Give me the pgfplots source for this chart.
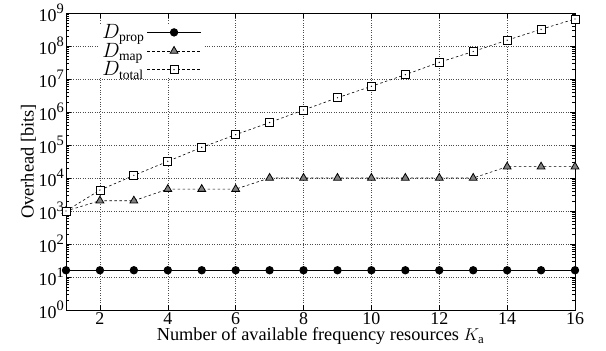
\documentclass[border=0pt]{standalone}
\usepackage{fontspec}
\setmainfont{Liberation Serif}
\usepackage{pgfplots}
\pgfplotsset{compat=1.18}
\pgfdeclareplotmark{sqdot}{%
  \pgfpathrectangle{\pgfpoint{-\pgfplotmarksize}{-\pgfplotmarksize}}{\pgfpoint{2\pgfplotmarksize}{2\pgfplotmarksize}}%
  \pgfusepathqfillstroke
  \begin{pgfscope}%
  \pgfsetfillcolor{black}%
  \pgfpathcircle{\pgfpointorigin}{0.7pt}%
  \pgfusepathqfill
  \end{pgfscope}}
\newcommand{\tp}[1]{10\raisebox{0.42em}{\fontsize{14.5}{15}\selectfont #1}}
\begin{document}
\begin{tikzpicture}[x=1bp,y=1bp]
\begin{axis}[
  scale only axis,
  width=509bp, height=297bp,
  at={(0,0)}, anchor=south west,
  ymode=log,
  xmin=1, xmax=16, ymin=1, ymax=1e9,
  xtick={2,4,6,8,10,12,14,16},
  ytick={1,1e1,1e2,1e3,1e4,1e5,1e6,1e7,1e8,1e9},
  yticklabels={\tp{0},\tp{1},\tp{2},\tp{3},\tp{4},\tp{5},\tp{6},\tp{7},\tp{8},\tp{9}},
  /pgf/number format/assume math mode=true,
  tick align=inside,
  tick pos=both,
  minor x tick num=0,
  major tick length=5bp, minor tick length=3bp,
  grid=major,
  major grid style={black!70, dotted, line width=0.5pt},
  axis line style={line width=0.9pt},
  tick style={black, line width=0.5pt},
  every tick label/.append style={font=\fontsize{18}{20}\selectfont},
  yticklabel style={inner xsep=2bp},
  xticklabel style={inner ysep=2bp},
  label style={font=\fontsize{18.4}{20}\selectfont},
  xlabel={Number of available frequency resources $K_{\mathrm{a}}$},
  ylabel={Overhead [bits]},
  xlabel style={yshift=2bp},
  ylabel style={yshift=-3bp},
  legend plot pos=right,
  legend cell align=left,
  legend style={at={(0.065,0.965)}, anchor=north west, draw=none, fill=white,
    font=\fontsize{19.5}{20}\selectfont, row sep=3bp, inner sep=1bp,
    nodes={inner xsep=2bp, inner ysep=0bp}},
  legend image code/.code={
    \draw[#1] (9bp,0bp) -- (63bp,0bp);
    \draw[#1, only marks] plot coordinates {(36bp,0bp)};
  },
]
\addplot[black, line width=1.1pt, mark=*, mark size=3.6bp, mark options={solid, fill=black}]
  coordinates {(1,16)(2,16)(3,16)(4,16)(5,16)(6,16)(7,16)(8,16)(9,16)(10,16)(11,16)(12,16)(13,16)(14,16)(15,16)(16,16)};
\addlegendentry{$D_{\mathrm{prop}}$}
\addplot[black, line width=0.6pt, dash pattern=on 2.5bp off 2.5bp, mark=triangle*, mark size=4.5bp, mark options={solid, fill=gray, draw=black, line width=0.8pt}]
  coordinates {(1,1000)(2,2050)(3,2050)(4,4600)(5,4600)(6,4600)(7,10000)(8,10000)(9,10000)(10,10000)(11,10000)(12,10000)(13,10000)(14,22000)(15,22000)(16,22000)};
\addlegendentry{$D_{\mathrm{map}}$}
\addplot[black, line width=0.6pt, dash pattern=on 2.5bp off 2.5bp, mark=sqdot, mark size=4bp, mark options={solid, fill=white, draw=black, line width=0.8pt}]
  coordinates {(1,1000)(2,4300)(3,12000)(4,32000)(5,85000)(6,205000)(7,480000)(8,1150000)(9,2700000)(10,6000000)(11,13500000)(12,32000000)(13,68000000)(14,150000000)(15,320000000)(16,660000000)};
\addlegendentry{$D_{\mathrm{total}}$}
\end{axis}
\pgfresetboundingbox
\path[use as bounding box] (-66bp,-41bp) rectangle (540bp,310bp);
\end{tikzpicture}
\end{document}
